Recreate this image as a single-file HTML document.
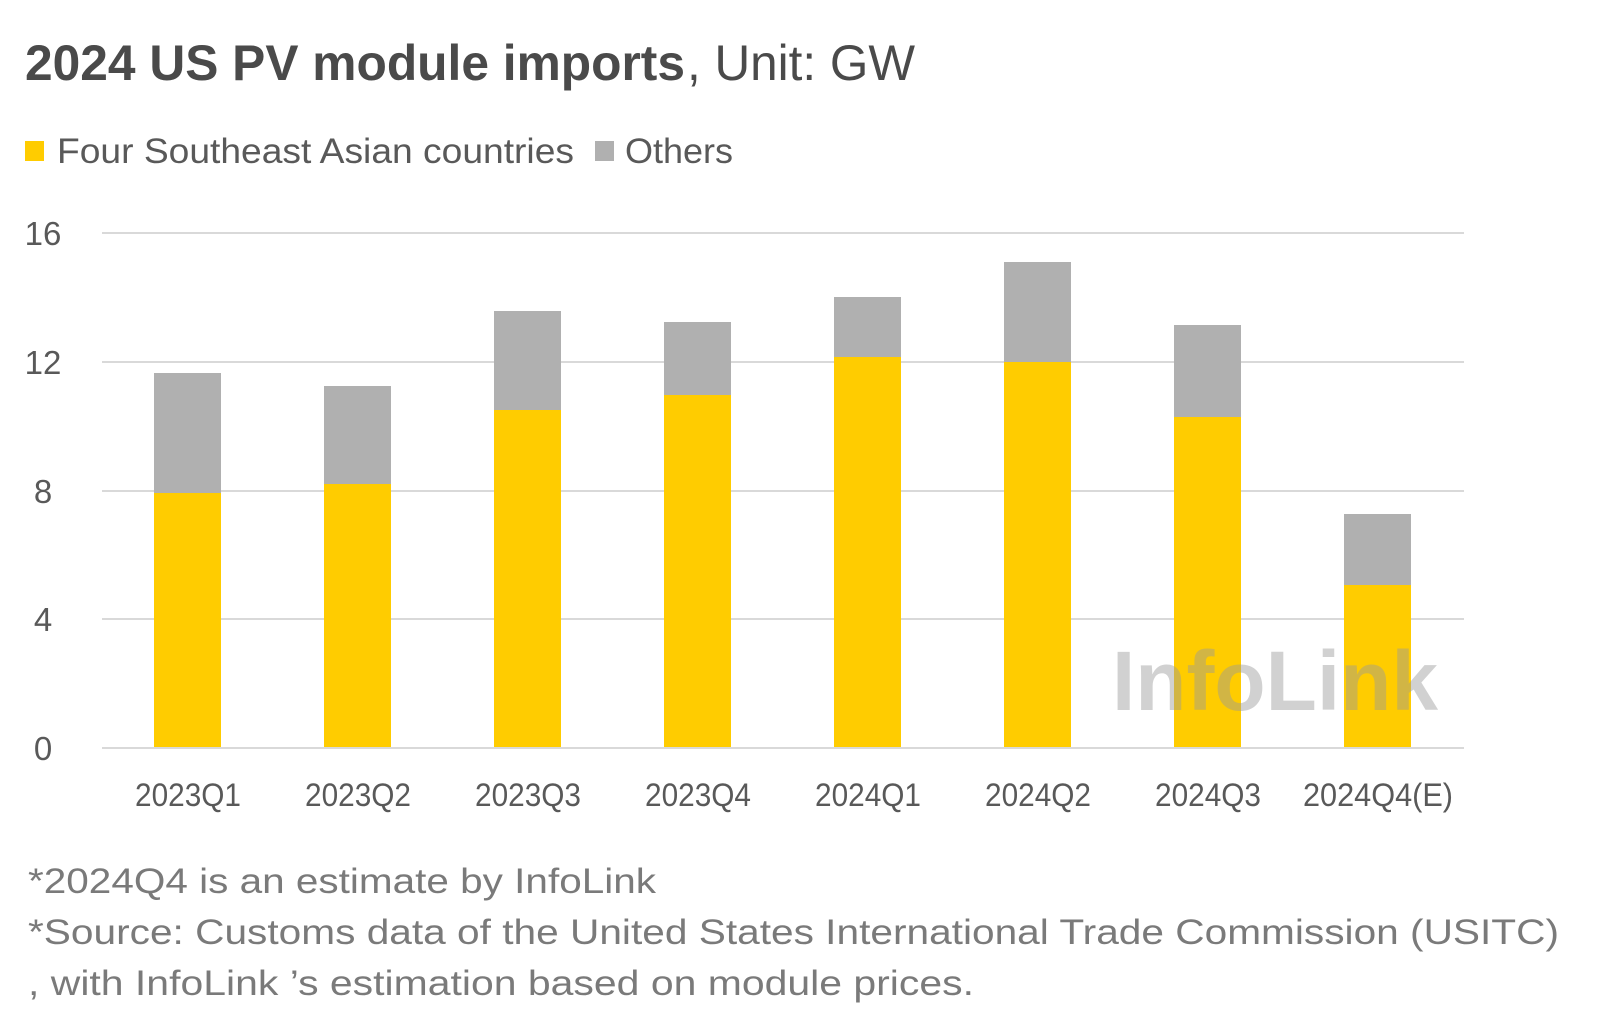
<!DOCTYPE html>
<html><head><meta charset="utf-8"><style>
html,body{margin:0;padding:0;background:#fff;}
svg{display:block;}
text{font-family:"Liberation Sans",sans-serif;}
</style></head><body>
<svg width="1600" height="1030" viewBox="0 0 1600 1030" xmlns="http://www.w3.org/2000/svg">
<rect width="1600" height="1030" fill="#fff"/>
<text x="25" y="80" font-size="50" font-weight="bold" fill="#4a4a4a" textLength="660" lengthAdjust="spacingAndGlyphs">2024 US PV module imports</text>
<text x="687" y="80" font-size="50" fill="#4a4a4a" textLength="228" lengthAdjust="spacingAndGlyphs">, Unit: GW</text>
<rect x="25" y="141" width="19" height="20" fill="#FFCC00"/>
<text x="57" y="163" font-size="35" fill="#595959" textLength="517" lengthAdjust="spacingAndGlyphs">Four Southeast Asian countries</text>
<rect x="595" y="141" width="19" height="20" fill="#B0B0B0"/>
<text x="625" y="163" font-size="35" fill="#595959" textLength="108" lengthAdjust="spacingAndGlyphs">Others</text>
<g stroke="#d9d9d9" stroke-width="2">
<line x1="102" y1="233" x2="1464" y2="233"/>
<line x1="102" y1="362" x2="1464" y2="362"/>
<line x1="102" y1="491" x2="1464" y2="491"/>
<line x1="102" y1="619" x2="1464" y2="619"/>
</g>
<g font-size="33" fill="#595959" text-anchor="middle">
<text x="43" y="245">16</text><text x="43" y="374">12</text><text x="43" y="503">8</text><text x="43" y="631">4</text><text x="43" y="760">0</text>
</g>
<g>
<rect x="154" y="493" width="67" height="255" fill="#FFCC00"/><rect x="154" y="373" width="67" height="120" fill="#B0B0B0"/>
<rect x="324" y="484" width="67" height="264" fill="#FFCC00"/><rect x="324" y="386" width="67" height="98" fill="#B0B0B0"/>
<rect x="494" y="410" width="67" height="338" fill="#FFCC00"/><rect x="494" y="311" width="67" height="99" fill="#B0B0B0"/>
<rect x="664" y="395" width="67" height="353" fill="#FFCC00"/><rect x="664" y="322" width="67" height="73" fill="#B0B0B0"/>
<rect x="834" y="357" width="67" height="391" fill="#FFCC00"/><rect x="834" y="297" width="67" height="60" fill="#B0B0B0"/>
<rect x="1004" y="362" width="67" height="386" fill="#FFCC00"/><rect x="1004" y="262" width="67" height="100" fill="#B0B0B0"/>
<rect x="1174" y="417" width="67" height="331" fill="#FFCC00"/><rect x="1174" y="325" width="67" height="92" fill="#B0B0B0"/>
<rect x="1344" y="585" width="67" height="163" fill="#FFCC00"/><rect x="1344" y="514" width="67" height="71" fill="#B0B0B0"/>
</g>
<line x1="102" y1="748" x2="1464" y2="748" stroke="#d9d9d9" stroke-width="2"/>
<text x="1112" y="710" font-family="Liberation Serif,serif" font-size="84" font-weight="bold" fill="#999" fill-opacity="0.45" textLength="326" lengthAdjust="spacingAndGlyphs">InfoLink</text>
<g font-size="32" fill="#595959" text-anchor="middle">
<text x="188" y="806" textLength="106" lengthAdjust="spacingAndGlyphs">2023Q1</text>
<text x="358" y="806" textLength="106" lengthAdjust="spacingAndGlyphs">2023Q2</text>
<text x="528" y="806" textLength="106" lengthAdjust="spacingAndGlyphs">2023Q3</text>
<text x="698" y="806" textLength="106" lengthAdjust="spacingAndGlyphs">2023Q4</text>
<text x="868" y="806" textLength="106" lengthAdjust="spacingAndGlyphs">2024Q1</text>
<text x="1038" y="806" textLength="106" lengthAdjust="spacingAndGlyphs">2024Q2</text>
<text x="1208" y="806" textLength="106" lengthAdjust="spacingAndGlyphs">2024Q3</text>
<text x="1378" y="806" textLength="150" lengthAdjust="spacingAndGlyphs">2024Q4(E)</text>
</g>
<g font-size="35" fill="#7a7a7a">
<text x="28" y="893" textLength="628" lengthAdjust="spacingAndGlyphs">*2024Q4 is an estimate by InfoLink</text>
<text x="28" y="944" textLength="1531" lengthAdjust="spacingAndGlyphs">*Source: Customs data of the United States International Trade Commission (USITC)</text>
<text x="28" y="995" textLength="946" lengthAdjust="spacingAndGlyphs">, with InfoLink ’s estimation based on module prices.</text>
</g>
</svg>
</body></html>
